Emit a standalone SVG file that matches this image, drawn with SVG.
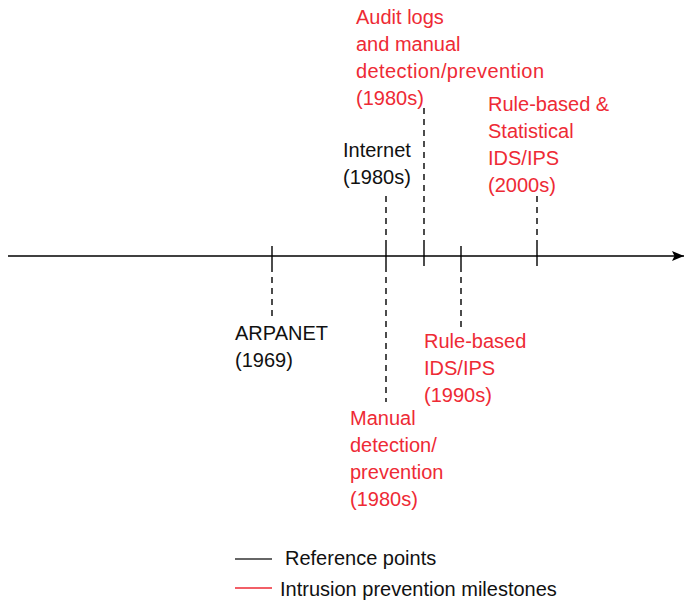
<svg xmlns="http://www.w3.org/2000/svg" width="684" height="604" viewBox="0 0 684 604">
<defs>
<marker id="arrow" markerWidth="13" markerHeight="12" refX="12" refY="6" orient="auto" markerUnits="userSpaceOnUse">
<path d="M0,1 L12,6 L0,11 L2.5,6 Z" fill="#000"/>
</marker>
<style>
text{font-family:"Liberation Sans",Arial,sans-serif;font-size:20px}
.blk{fill:#111}
.red{fill:#ee2a35}
.tick{stroke:#000;stroke-width:1.4;fill:none}
.dash{stroke:#000;stroke-width:1.4;stroke-dasharray:6,5;fill:none}
</style>
</defs>
<rect width="684" height="604" fill="#fff"/>
<g id="connectors">
<line x1="8" y1="256" x2="684" y2="256" stroke="#000" stroke-width="1.6" marker-end="url(#arrow)"/>
<line class="tick" x1="272" y1="246" x2="272" y2="266"/>
<line class="dash" x1="272" y1="266" x2="272" y2="318"/>
<line class="tick" x1="386" y1="246" x2="386" y2="266"/>
<line class="dash" x1="386" y1="246" x2="386" y2="196"/>
<line class="dash" x1="386" y1="266" x2="386" y2="402"/>
<line class="tick" x1="424" y1="246" x2="424" y2="266"/>
<line class="dash" x1="424" y1="246" x2="424" y2="104"/>
<line class="tick" x1="461" y1="246" x2="461" y2="266"/>
<line class="dash" x1="461" y1="266" x2="461" y2="330"/>
<line class="tick" x1="537" y1="246" x2="537" y2="266"/>
<line class="dash" x1="537" y1="246" x2="537" y2="196"/>
</g>
<g id="arpanet">
<text class="blk" x="235" y="340">ARPANET</text>
<text class="blk" x="235" y="367">(1969)</text>
</g>
<g id="internet">
<text class="blk" x="343" y="157">Internet</text>
<text class="blk" x="343" y="184">(1980s)</text>
</g>
<g id="audit">
<text class="red" x="356" y="24">Audit logs</text>
<text class="red" x="356" y="51">and manual</text>
<text class="red" x="356" y="78" textLength="188">detection/prevention</text>
<text class="red" x="356" y="105">(1980s)</text>
</g>
<g id="manual">
<text class="red" x="350" y="425">Manual</text>
<text class="red" x="350" y="452">detection/</text>
<text class="red" x="350" y="479">prevention</text>
<text class="red" x="350" y="506">(1980s)</text>
</g>
<g id="rulebased">
<text class="red" x="424" y="348">Rule-based</text>
<text class="red" x="424" y="375">IDS/IPS</text>
<text class="red" x="424" y="402">(1990s)</text>
</g>
<g id="statistical">
<text class="red" x="488" y="111">Rule-based &amp;</text>
<text class="red" x="488" y="138">Statistical</text>
<text class="red" x="488" y="165">IDS/IPS</text>
<text class="red" x="488" y="192">(2000s)</text>
</g>
<g id="legend">
<line x1="235" y1="559" x2="272" y2="559" stroke="#333" stroke-width="1.4"/>
<text class="blk" x="285" y="565">Reference points</text>
<line x1="235" y1="588" x2="272" y2="588" stroke="#ee2a35" stroke-width="1.4"/>
<text class="blk" x="280" y="596">Intrusion prevention milestones</text>
</g>
</svg>
